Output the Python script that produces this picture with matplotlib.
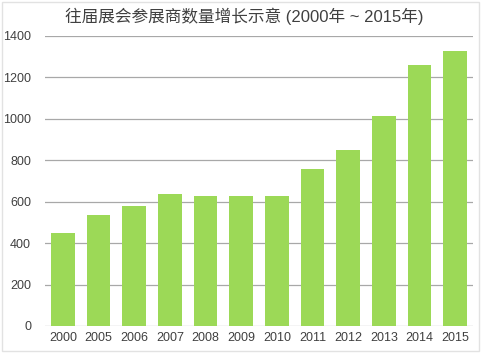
import matplotlib
matplotlib.use("Agg")
import matplotlib.pyplot as plt
from matplotlib.patches import Rectangle

plt.rcParams['font.family'] = ['Liberation Sans', 'Noto Sans CJK SC', 'DejaVu Sans']

# exhibitor counts per year
years = ['2000', '2005', '2006', '2007', '2008', '2009', '2010',
         '2011', '2012', '2013', '2014', '2015']
exhibitors = [450, 535, 580, 635, 628, 630, 628, 760, 850, 1015, 1260, 1330]
y_ticks = [0, 200, 400, 600, 800, 1000, 1200, 1400]

title = '往届展会参展商数量增长示意 (2000年 ~ 2015年)'

fig = plt.figure(figsize=(4.88, 3.57), dpi=100)
ax = fig.add_axes([45/488, 31/357, 428/488, 290/357])

x = range(len(years))
ax.bar(x, exhibitors, width=0.67, color='#9cd957', zorder=2)

ax.set_xlim(-0.5, len(years) - 0.5)
ax.set_ylim(0, 1400)
ax.set_yticks(y_ticks)
ax.set_xticks(list(x))
ax.set_xticklabels(years)
ax.yaxis.grid(True, color='#a8a8a8', linewidth=0.9, zorder=1)
ax.set_axisbelow(True)
for s in ax.spines.values():
    s.set_visible(False)
ax.tick_params(axis='both', length=0, labelsize=9, colors='#404040')
ax.tick_params(axis='y', pad=10)
ax.tick_params(axis='x', pad=4)

fig.text(0.5, 1 - 16/357, title, ha='center', va='center',
         fontsize=12, color='#404040')

# light frame around the screenshot
fig.patches.append(Rectangle((0.004, 6/357), 477/488, 349/357,
                             transform=fig.transFigure, fill=False,
                             edgecolor='#e2e2e2', linewidth=1.0))

fig.savefig('out.png', dpi=100)
